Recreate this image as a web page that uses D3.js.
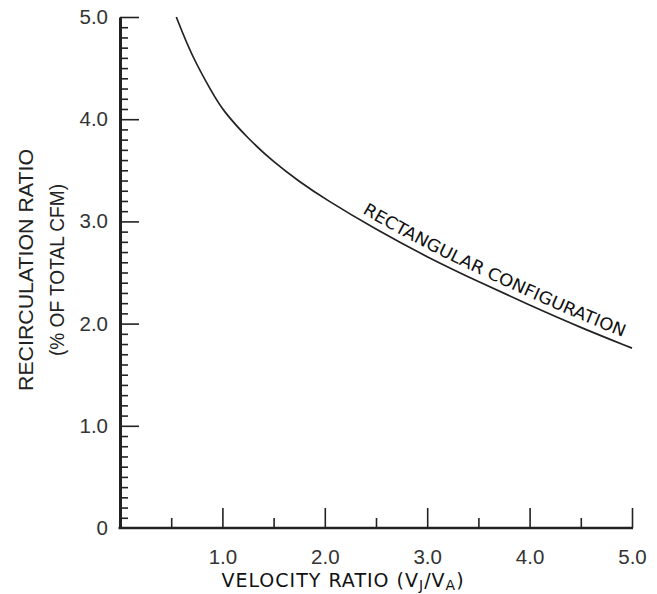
<!DOCTYPE html>
<html>
<head>
<meta charset="utf-8">
<script src="https://cdn.jsdelivr.net/npm/d3@7"></script>
<style>
  body { margin: 0; background: #fff; }
  .axis text { font-family: "Liberation Sans", Arial, sans-serif; font-size: 20.5px; fill: #333; }
  .axis path, .axis line { stroke: #222; }
  .hand { font-family: "DejaVu Sans", sans-serif; fill: #111; }
</style>
</head>
<body>
<div id="chart"></div>
<script>
// Curve
const velocityRatio = [0.55, 0.7, 0.9, 1.0, 1.25, 1.5, 1.75, 2.0, 2.5, 3.0, 3.5, 4.0, 4.5, 5.0];
const recircRatio   = [5.0, 4.62, 4.26, 4.09, 3.81, 3.58, 3.39, 3.22, 2.92, 2.65, 2.41, 2.18, 1.96, 1.76];

const xMajor = [1, 2, 3, 4, 5];
const xMinor = [0.5, 1.5, 2.5, 3.5, 4.5];
const yMajor = [0, 1, 2, 3, 4, 5];
const yMinor = d3.range(1, 50).filter(i => i % 10 !== 0).map(i => i / 10);

const W = 657, H = 594;

const svg = d3.select("#chart").append("svg")
    .attr("width", W)
    .attr("height", H);

const x = d3.scaleLinear().domain([0, 5]).range([120, 632]);
const y = d3.scaleLinear().domain([0, 5]).range([528, 17]);

// y axis: minor ticks then major ticks with labels
svg.append("g")
    .attr("class", "axis")
    .attr("transform", `translate(${x(0)},0)`)
    .call(d3.axisLeft(y).tickValues(yMinor).tickSizeInner(-8).tickSizeOuter(0).tickFormat(""))
    .call(g => g.selectAll("line").attr("stroke-width", 1.6))
    .call(g => g.select(".domain").remove());

svg.append("g")
    .attr("class", "axis")
    .attr("transform", `translate(${x(0)},0)`)
    .call(d3.axisLeft(y).tickValues(yMajor).tickSizeInner(-19).tickSizeOuter(0).tickPadding(12)
        .tickFormat(d => d === 0 ? "0" : d3.format(".1f")(d)))
    .call(g => g.selectAll(".tick line").attr("stroke-width", 1.6))
    .call(g => g.select(".domain").attr("stroke-width", 3))
    .call(g => g.selectAll(".tick").filter(d => d === 0).select("line").remove());

// x axis: ticks point upward
svg.append("g")
    .attr("class", "axis")
    .attr("transform", `translate(0,${y(0)})`)
    .call(d3.axisBottom(x).tickValues(xMinor).tickSizeInner(-10).tickSizeOuter(0).tickFormat(""))
    .call(g => g.selectAll("line").attr("stroke-width", 1.6))
    .call(g => g.select(".domain").remove());

svg.append("g")
    .attr("class", "axis")
    .attr("transform", `translate(0,${y(0)})`)
    .call(d3.axisBottom(x).tickValues(xMajor).tickSizeInner(-20).tickSizeOuter(0).tickPadding(21)
        .tickFormat(d3.format(".1f")))
    .call(g => g.selectAll(".tick line").attr("stroke-width", 1.6))
    .call(g => g.select(".domain").attr("stroke-width", 2.6).attr("d", `M${x(0) - 1.5},0H${x(5) + 1}`));

// curve
const pts = velocityRatio.map((v, i) => [v, recircRatio[i]]);
const line = d3.line()
    .x(d => x(d[0]))
    .y(d => y(d[1]))
    .curve(d3.curveBasis);

const curve = svg.append("path")
    .attr("id", "curve")
    .attr("d", line(pts))
    .attr("fill", "none")
    .attr("stroke", "#222")
    .attr("stroke-width", 1.7);

// find path offset where the label starts
const node = curve.node();
const total = node.getTotalLength();
let lo = 0, hi = total;
const startX = x(2.33);
for (let k = 0; k < 40; k++) {
    const mid = (lo + hi) / 2;
    if (node.getPointAtLength(mid).x < startX) lo = mid; else hi = mid;
}

svg.append("text")
    .attr("class", "hand")
    .attr("font-size", 17)
    .attr("dy", -7)
    .append("textPath")
    .attr("href", "#curve")
    .attr("startOffset", lo)
    .attr("textLength", 290)
    .attr("lengthAdjust", "spacingAndGlyphs")
    .text("RECTANGULAR CONFIGURATION");

// x axis title
const xt = svg.append("text")
    .attr("class", "hand")
    .attr("x", 343)
    .attr("y", 587)
    .attr("text-anchor", "middle")
    .attr("font-size", 19)
    .attr("letter-spacing", 1);
xt.append("tspan").text("VELOCITY RATIO (V");
xt.append("tspan").attr("font-size", 14).attr("dy", 3).text("J");
xt.append("tspan").attr("dy", -3).text("/V");
xt.append("tspan").attr("font-size", 14).attr("dy", 3).text("A");
xt.append("tspan").attr("dy", -3).text(")");

// y axis title, two lines
const yt = svg.append("text")
    .attr("transform", "translate(33,270) rotate(-90)")
    .attr("text-anchor", "middle")
    .style("font-family", "'Liberation Sans', Arial, sans-serif")
    .style("font-size", "20px")
    .attr("fill", "#222");
yt.append("tspan").attr("x", 0).attr("dy", 0)
    .attr("textLength", 242).attr("lengthAdjust", "spacingAndGlyphs")
    .text("RECIRCULATION RATIO");
yt.append("tspan").attr("x", 0).attr("dy", 31)
    .attr("textLength", 172).attr("lengthAdjust", "spacingAndGlyphs")
    .text("(% OF TOTAL CFM)");
</script>
</body>
</html>
